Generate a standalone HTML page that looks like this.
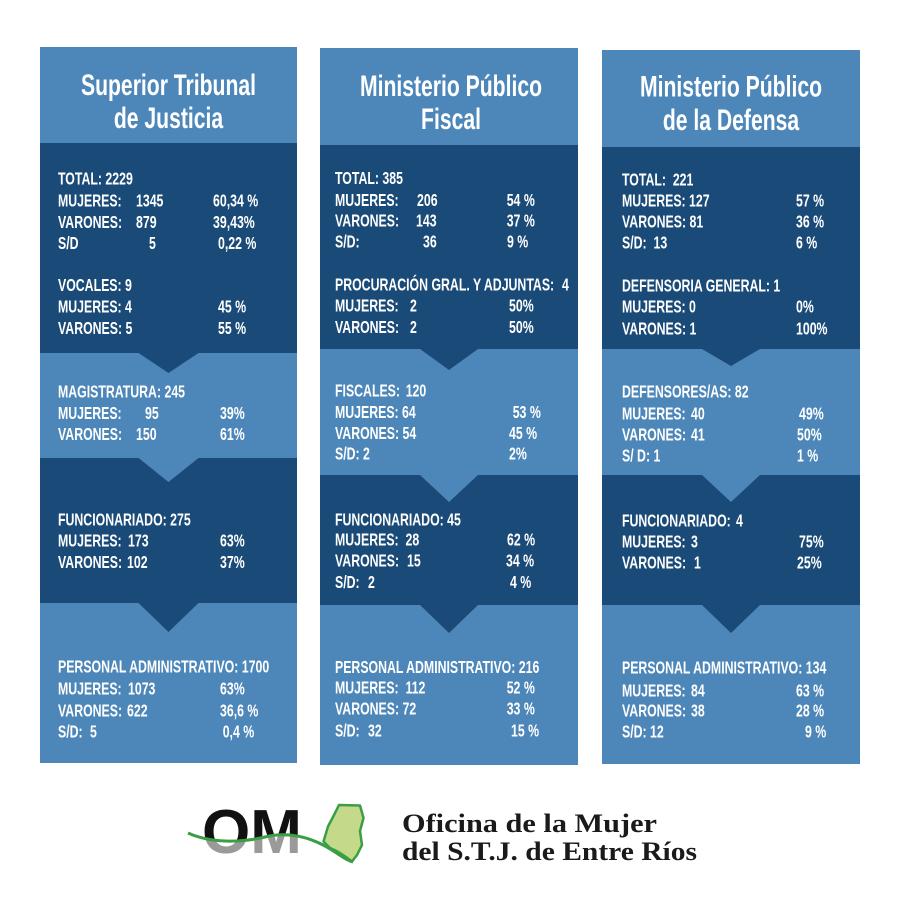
<!DOCTYPE html>
<html>
<head>
<meta charset="utf-8">
<style>
html,body{margin:0;padding:0;background:#fff;}
svg{display:block;}
.t{font-family:"Liberation Sans",Arial,sans-serif;font-weight:bold;font-size:18px;fill:#fff;}
.h{font-family:"Liberation Sans",Arial,sans-serif;font-weight:bold;font-size:30px;fill:#fff;text-anchor:middle;}
.s{font-family:"Liberation Serif","Times New Roman",serif;font-weight:bold;font-size:26px;fill:#1a1a1a;}
.om{font-family:"Liberation Sans",Arial,sans-serif;font-weight:bold;font-size:62px;}
</style>
</head>
<body>
<svg width="900" height="900" viewBox="0 0 900 900" xmlns="http://www.w3.org/2000/svg">
<rect x="0" y="0" width="900" height="900" fill="#fff"/>

<!-- Column 1 -->
<rect x="40" y="47" width="257" height="716" fill="#4d87ba"/>
<polygon fill="#1a4a78" points="40,143 297,143 297,353 198.5,353 168.5,373 138.5,353 40,353"/>
<polygon fill="#1a4a78" points="40,458 138.5,458 168.5,482 198.5,458 297,458 297,603 198.5,603 168.5,632 138.5,603 40,603"/>

<!-- Column 2 -->
<rect x="320" y="48" width="258" height="717" fill="#4d87ba"/>
<polygon fill="#1a4a78" points="320,145 578,145 578,349 478,349 449,370 420,349 320,349"/>
<polygon fill="#1a4a78" points="320,475 420,475 449,502 478,475 578,475 578,605 478,605 449,633 420,605 320,605"/>

<!-- Column 3 -->
<rect x="602" y="50" width="258" height="714" fill="#4d87ba"/>
<polygon fill="#1a4a78" points="602,147 860,147 860,349 760,349 731,366 702,349 602,349"/>
<polygon fill="#1a4a78" points="602,475 702,475 731,502 760,475 860,475 860,605 760,605 731,633 702,605 602,605"/>

<!-- Headers -->
<text class="h" transform="translate(168.5,95) scale(0.705,1)">Superior Tribunal</text>
<text class="h" transform="translate(168.5,128) scale(0.705,1)">de Justicia</text>
<text class="h" transform="translate(451,96) scale(0.705,1)">Ministerio Público</text>
<text class="h" transform="translate(451,129) scale(0.705,1)">Fiscal</text>
<text class="h" transform="translate(731,96.5) scale(0.705,1)">Ministerio Público</text>
<text class="h" transform="translate(731,130) scale(0.705,1)">de la Defensa</text>

<g transform="translate(0,0.8)">
<!-- Column 1 text -->
<g class="t">
<text transform="translate(58,183.7) scale(.685,1)">TOTAL: 2229</text>
<text transform="translate(58,205.7) scale(.685,1)">MUJERES:</text>
<text transform="translate(136,205.7) scale(.685,1)">1345</text>
<text transform="translate(213,205.7) scale(.685,1)">60,34 %</text>
<text transform="translate(58,227.2) scale(.685,1)">VARONES:</text>
<text transform="translate(136,227.2) scale(.685,1)">879</text>
<text transform="translate(213,227.2) scale(.685,1)">39,43%</text>
<text transform="translate(58,248.2) scale(.685,1)">S/D</text>
<text transform="translate(149,248.2) scale(.685,1)">5</text>
<text transform="translate(218,248.2) scale(.685,1)">0,22 %</text>

<text transform="translate(58,290.2) scale(.685,1)">VOCALES: 9</text>
<text transform="translate(58,311.7) scale(.685,1)">MUJERES: 4</text>
<text transform="translate(218,311.7) scale(.685,1)">45 %</text>
<text transform="translate(58,333.2) scale(.685,1)">VARONES: 5</text>
<text transform="translate(218,333.2) scale(.685,1)">55 %</text>

<text transform="translate(58,396.7) scale(.685,1)">MAGISTRATURA: 245</text>
<text transform="translate(58,418.2) scale(.685,1)">MUJERES:</text>
<text transform="translate(145,418.2) scale(.685,1)">95</text>
<text transform="translate(220,418.2) scale(.685,1)">39%</text>
<text transform="translate(58,439.2) scale(.685,1)">VARONES:</text>
<text transform="translate(136,439.2) scale(.685,1)">150</text>
<text transform="translate(220,439.2) scale(.685,1)">61%</text>

<text transform="translate(58,524.7) scale(.685,1)">FUNCIONARIADO: 275</text>
<text transform="translate(58,545.7) scale(.685,1)">MUJERES:</text>
<text transform="translate(128,545.7) scale(.685,1)">173</text>
<text transform="translate(220,545.7) scale(.685,1)">63%</text>
<text transform="translate(58,567.2) scale(.685,1)">VARONES:</text>
<text transform="translate(127,567.2) scale(.685,1)">102</text>
<text transform="translate(220,567.2) scale(.685,1)">37%</text>

<text transform="translate(58,671.7) scale(.685,1)">PERSONAL ADMINISTRATIVO: 1700</text>
<text transform="translate(58,693.7) scale(.685,1)">MUJERES:</text>
<text transform="translate(128,693.7) scale(.685,1)">1073</text>
<text transform="translate(220,693.7) scale(.685,1)">63%</text>
<text transform="translate(58,715.7) scale(.685,1)">VARONES:</text>
<text transform="translate(127,715.7) scale(.685,1)">622</text>
<text transform="translate(220,715.7) scale(.685,1)">36,6 %</text>
<text transform="translate(58,736.7) scale(.685,1)">S/D:</text>
<text transform="translate(90,736.7) scale(.685,1)">5</text>
<text transform="translate(222.7,736.7) scale(.685,1)">0,4 %</text>
</g>

<!-- Column 2 text -->
<g class="t">
<text transform="translate(335,183.2) scale(.685,1)">TOTAL: 385</text>
<text transform="translate(335,205.2) scale(.685,1)">MUJERES:</text>
<text transform="translate(417,205.2) scale(.685,1)">206</text>
<text transform="translate(506.7,205.2) scale(.685,1)">54 %</text>
<text transform="translate(335,225.7) scale(.685,1)">VARONES:</text>
<text transform="translate(416,225.7) scale(.685,1)">143</text>
<text transform="translate(506.7,225.7) scale(.685,1)">37 %</text>
<text transform="translate(335,246.7) scale(.685,1)">S/D:</text>
<text transform="translate(423,246.7) scale(.685,1)">36</text>
<text transform="translate(507,246.7) scale(.685,1)">9 %</text>

<text transform="translate(335,289.7) scale(.685,1)">PROCURACIÓN GRAL. Y ADJUNTAS:</text>
<text transform="translate(562,289.7) scale(.685,1)">4</text>
<text transform="translate(335,310.7) scale(.685,1)">MUJERES:</text>
<text transform="translate(410,310.7) scale(.685,1)">2</text>
<text transform="translate(509,310.7) scale(.685,1)">50%</text>
<text transform="translate(335,332.2) scale(.685,1)">VARONES:</text>
<text transform="translate(410,332.2) scale(.685,1)">2</text>
<text transform="translate(509,332.2) scale(.685,1)">50%</text>

<text transform="translate(335,395.7) scale(.685,1)">FISCALES:</text>
<text transform="translate(405.7,395.7) scale(.685,1)">120</text>
<text transform="translate(335,417.2) scale(.685,1)">MUJERES: 64</text>
<text transform="translate(512.7,417.2) scale(.685,1)">53 %</text>
<text transform="translate(335,438.2) scale(.685,1)">VARONES: 54</text>
<text transform="translate(509,438.2) scale(.685,1)">45 %</text>
<text transform="translate(335,458.7) scale(.685,1)">S/D: 2</text>
<text transform="translate(509,458.7) scale(.685,1)">2%</text>

<text transform="translate(335,524.7) scale(.685,1)">FUNCIONARIADO: 45</text>
<text transform="translate(335,544.7) scale(.685,1)" xml:space="preserve">MUJERES:  28</text>
<text transform="translate(507,544.7) scale(.685,1)">62 %</text>
<text transform="translate(335,565.7) scale(.685,1)">VARONES:</text>
<text transform="translate(407,565.7) scale(.685,1)">15</text>
<text transform="translate(506,565.7) scale(.685,1)">34 %</text>
<text transform="translate(335,587.2) scale(.685,1)">S/D:</text>
<text transform="translate(368,587.2) scale(.685,1)">2</text>
<text transform="translate(510,587.2) scale(.685,1)">4 %</text>

<text transform="translate(335,672.2) scale(.685,1)">PERSONAL ADMINISTRATIVO: 216</text>
<text transform="translate(335,692.7) scale(.685,1)" xml:space="preserve">MUJERES:  112</text>
<text transform="translate(506.7,692.7) scale(.685,1)">52 %</text>
<text transform="translate(335,713.7) scale(.685,1)">VARONES: 72</text>
<text transform="translate(506.7,713.7) scale(.685,1)">33 %</text>
<text transform="translate(335,735.7) scale(.685,1)">S/D:</text>
<text transform="translate(368,735.7) scale(.685,1)">32</text>
<text transform="translate(511,735.7) scale(.685,1)">15 %</text>
</g>

<!-- Column 3 text -->
<g class="t">
<text transform="translate(622,184.7) scale(.685,1)" xml:space="preserve">TOTAL:  221</text>
<text transform="translate(622,205.7) scale(.685,1)">MUJERES: 127</text>
<text transform="translate(796,205.7) scale(.685,1)">57 %</text>
<text transform="translate(622,226.7) scale(.685,1)">VARONES: 81</text>
<text transform="translate(796,226.7) scale(.685,1)">36 %</text>
<text transform="translate(622,247.7) scale(.685,1)" xml:space="preserve">S/D:  13</text>
<text transform="translate(796,247.7) scale(.685,1)">6 %</text>

<text transform="translate(622,290.7) scale(.685,1)">DEFENSORIA GENERAL: 1</text>
<text transform="translate(622,311.7) scale(.685,1)">MUJERES: 0</text>
<text transform="translate(796,311.7) scale(.685,1)">0%</text>
<text transform="translate(622,333.7) scale(.685,1)">VARONES: 1</text>
<text transform="translate(796,333.7) scale(.685,1)">100%</text>

<text transform="translate(622,396.7) scale(.685,1)">DEFENSORES/AS: 82</text>
<text transform="translate(622,418.7) scale(.685,1)">MUJERES:</text>
<text transform="translate(691,418.7) scale(.685,1)">40</text>
<text transform="translate(799,418.7) scale(.685,1)">49%</text>
<text transform="translate(622,439.7) scale(.685,1)">VARONES:</text>
<text transform="translate(691,439.7) scale(.685,1)">41</text>
<text transform="translate(797,439.7) scale(.685,1)">50%</text>
<text transform="translate(622,460.7) scale(.685,1)">S/ D: 1</text>
<text transform="translate(797,460.7) scale(.685,1)">1 %</text>

<text transform="translate(622,525.7) scale(.685,1)">FUNCIONARIADO:</text>
<text transform="translate(736,525.7) scale(.685,1)">4</text>
<text transform="translate(622,546.7) scale(.685,1)">MUJERES:</text>
<text transform="translate(691,546.7) scale(.685,1)">3</text>
<text transform="translate(799,546.7) scale(.685,1)">75%</text>
<text transform="translate(622,567.7) scale(.685,1)">VARONES:</text>
<text transform="translate(694,567.7) scale(.685,1)">1</text>
<text transform="translate(797,567.7) scale(.685,1)">25%</text>

<text transform="translate(622,672.7) scale(.685,1)">PERSONAL ADMINISTRATIVO: 134</text>
<text transform="translate(622,695.7) scale(.685,1)">MUJERES:</text>
<text transform="translate(691,695.7) scale(.685,1)">84</text>
<text transform="translate(796,695.7) scale(.685,1)">63 %</text>
<text transform="translate(622,715.7) scale(.685,1)">VARONES:</text>
<text transform="translate(691,715.7) scale(.685,1)">38</text>
<text transform="translate(796,715.7) scale(.685,1)">28 %</text>
<text transform="translate(622,736.7) scale(.685,1)">S/D: 12</text>
<text transform="translate(805,736.7) scale(.685,1)">9 %</text>
</g>
</g>

<!-- Logo -->
<defs>
<clipPath id="top">
<path d="M150,780 L370,780 L370,862 L353,862 C345,860 338,853 325,846 C310,838 290,831 265,837 C240,843 210,843 188,833 L150,833 Z"/>
</clipPath>
<clipPath id="bot">
<path d="M150,833 L188,833 C210,843 240,843 265,837 C290,831 310,838 325,846 C338,853 345,860 353,862 L370,862 L370,880 L150,880 Z"/>
</clipPath>
</defs>
<text class="om" x="202" y="853" fill="#111" clip-path="url(#top)">OM</text>
<text class="om" x="202" y="853" fill="#9a9a9a" clip-path="url(#bot)">OM</text>
<path d="M339,805 L360,805.5 L363.5,818 L360,831 L362,845 L357,855 L352,861.5 C345,856 338,851 330,848 L323.5,841.5 L328,826.5 L333.5,816 Z" fill="#c5d98a" stroke="#3a9e45" stroke-width="2.5" stroke-linejoin="round"/>
<path d="M188,833 C210,843 240,843 265,837 C290,831 310,838 325,846 C338,853 345,860 353,862" fill="none" stroke="#3a9e45" stroke-width="3"/>

<text class="s" x="402" y="832" textLength="255" lengthAdjust="spacingAndGlyphs">Oficina de la Mujer</text>
<text class="s" x="402" y="860" textLength="295" lengthAdjust="spacingAndGlyphs">del S.T.J. de Entre Ríos</text>
</svg>
</body>
</html>
